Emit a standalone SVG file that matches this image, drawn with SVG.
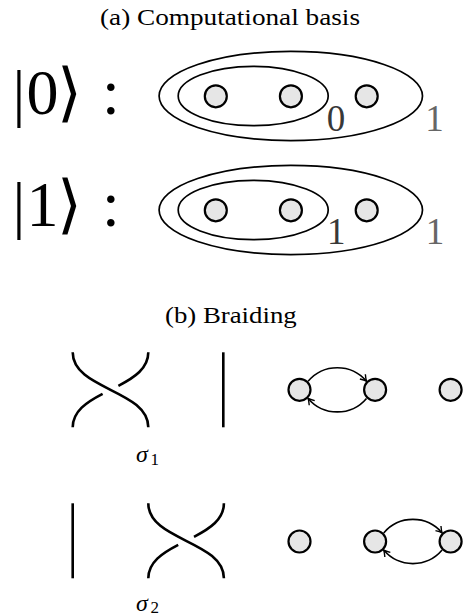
<svg xmlns="http://www.w3.org/2000/svg" width="465" height="616" viewBox="0 0 465 616">
<style>
  .title { font-size: 24px; }
  .ket { font-size: 64px; text-anchor: middle; }
  .lab { font-size: 37px; text-anchor: middle; }
  .lab-in { fill: #383838; }
  .lab-out { fill: #666666; }
  .shell { fill: none; stroke: #000; stroke-width: 1.7; }
  .anyon { fill: #e6e6e6; stroke: #000; stroke-width: 2.2; }
  .strand { fill: none; stroke: #000; stroke-width: 2.6; }
  .swap { fill: none; stroke: #000; stroke-width: 1.6; marker-end: url(#arr); }
  .sigma { font-size: 24px; font-style: italic; }
  .sub { font-size: 17px; }
</style>
<defs>
  <marker id="arr" markerUnits="userSpaceOnUse" markerWidth="12" markerHeight="12" refX="0" refY="0" viewBox="-8 -6 10 12" orient="auto">
    <path d="M-6,-3.6 Q-2.4,-1 0,0 Q-2.4,1 -6,3.6" fill="none" stroke="#000" stroke-width="1.4"/>
  </marker>
  <g id="crossing">
    <path class="strand" d="M0,0 C0,37.5 75.6,37.5 75.6,75"/>
    <path class="strand" d="M75.6,0 C75.6,16.1 61.6,25.3 45.7,33.5"/>
    <path class="strand" d="M29.9,41.5 C14,49.7 0,58.9 0,75"/>
  </g>
  <g id="exchange">
    <path class="swap" d="M8.6,-8.6 A38.3,38.3 0 0,1 67,-8.6"/>
    <path class="swap" d="M67,8.6 A38.3,38.3 0 0,1 8.6,8.6"/>
  </g>
</defs>

<g font-family="Liberation Serif">
<text id="title-a" class="title" x="100" y="24.5" font-family="Liberation Serif" textLength="260" lengthAdjust="spacingAndGlyphs">(a) Computational basis</text>

<g id="state0">
  <text class="ket" x="19" y="114" font-family="Liberation Serif">|</text>
  <text class="ket" x="42.5" y="114" font-family="Liberation Serif">0</text>
  <text class="ket" x="69" y="114" font-family="Liberation Serif">⟩</text>
  <text class="ket" x="110.8" y="114" font-family="Liberation Serif">:</text>
  <ellipse class="shell" cx="290.8" cy="96" rx="131.7" ry="44.6"/>
  <ellipse class="shell" cx="253.2" cy="96" rx="75" ry="29.6"/>
  <circle class="anyon" cx="215.8" cy="96.3" r="11"/>
  <circle class="anyon" cx="290.9" cy="96.3" r="11"/>
  <circle class="anyon" cx="366.7" cy="96.3" r="11"/>
  <text class="lab lab-in" x="336" y="130.5" font-family="Liberation Serif">0</text>
  <text class="lab lab-out" x="434.5" y="130.5" font-family="Liberation Serif">1</text>
</g>

<g id="state1">
  <text class="ket" x="19" y="226" font-family="Liberation Serif">|</text>
  <text class="ket" x="42.5" y="226" font-family="Liberation Serif">1</text>
  <text class="ket" x="69" y="226" font-family="Liberation Serif">⟩</text>
  <text class="ket" x="110.8" y="226" font-family="Liberation Serif">:</text>
  <ellipse class="shell" cx="290.8" cy="210" rx="131.7" ry="44.6"/>
  <ellipse class="shell" cx="253.2" cy="210" rx="75" ry="29.6"/>
  <circle class="anyon" cx="215.8" cy="210.3" r="11"/>
  <circle class="anyon" cx="290.9" cy="210.3" r="11"/>
  <circle class="anyon" cx="366.7" cy="210.3" r="11"/>
  <text class="lab lab-in" x="336.3" y="244" font-family="Liberation Serif">1</text>
  <text class="lab lab-out" x="435" y="244" font-family="Liberation Serif">1</text>
</g>

<text id="title-b" class="title" x="165" y="322.5" font-family="Liberation Serif" textLength="131.7" lengthAdjust="spacingAndGlyphs">(b) Braiding</text>

<g id="sigma1">
  <use href="#crossing" transform="translate(72.7,352.3)"/>
  <line class="strand" x1="223.3" y1="352.3" x2="223.3" y2="427.3"/>
  <text class="sigma" x="136" y="462" font-family="Liberation Serif">σ</text>
  <text class="sub" x="150.5" y="465" font-family="Liberation Serif">1</text>
</g>

<g id="sigma1-anyons">
  <circle class="anyon" cx="299.5" cy="389.8" r="11"/>
  <circle class="anyon" cx="375.1" cy="389.8" r="11"/>
  <circle class="anyon" cx="450.6" cy="389.8" r="11"/>
</g>

<g id="sigma2">
  <line class="strand" x1="72.7" y1="503.3" x2="72.7" y2="578.3"/>
  <use href="#crossing" transform="translate(148.3,503.3)"/>
  <text class="sigma" x="136" y="610.5" font-family="Liberation Serif">σ</text>
  <text class="sub" x="150.5" y="613" font-family="Liberation Serif">2</text>
</g>

<g id="sigma2-anyons">
  <circle class="anyon" cx="299.5" cy="541.5" r="11"/>
  <circle class="anyon" cx="375.1" cy="541.5" r="11"/>
  <circle class="anyon" cx="450.6" cy="541.5" r="11"/>
</g>
</g>

<g id="connectors">
  <use href="#exchange" transform="translate(299.5,389.8)"/>
  <use href="#exchange" transform="translate(375.1,541.5)"/>
</g>
</svg>
